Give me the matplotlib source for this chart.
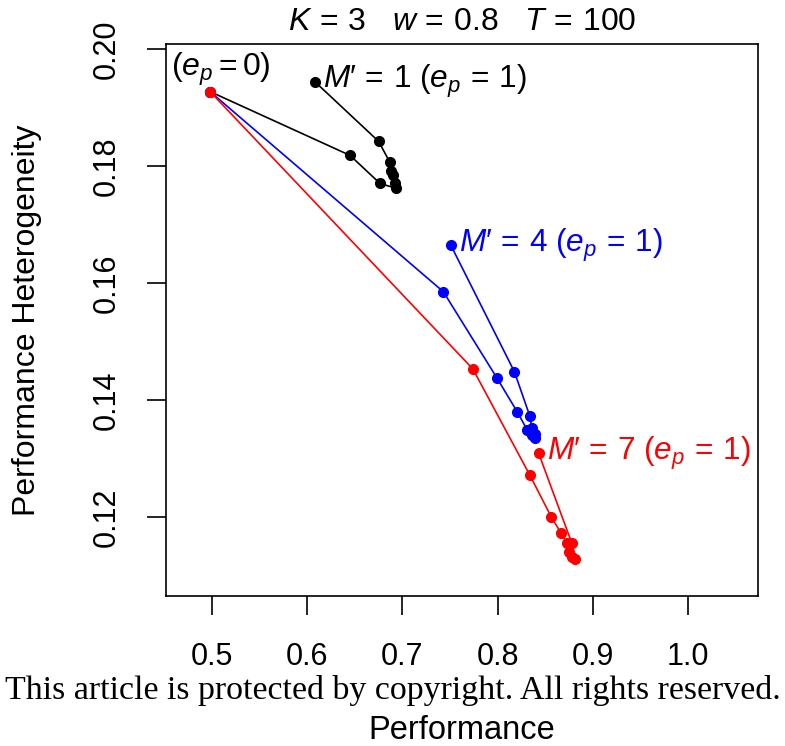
import numpy as np
import matplotlib
matplotlib.use("Agg")
import matplotlib.pyplot as plt

plt.rcParams['font.family'] = ['Liberation Sans', 'DejaVu Sans']
plt.rcParams['mathtext.fontset'] = 'custom'
plt.rcParams['mathtext.rm'] = 'Liberation Sans'
plt.rcParams['mathtext.it'] = 'Liberation Sans:italic'

# values, e_p goes from 0 to 1 along each path
perf_m1 = [0.498, 0.645, 0.6765, 0.693, 0.692, 0.6905, 0.688, 0.6869, 0.675, 0.608]
het_m1 = [0.1927, 0.1818, 0.1770, 0.1762, 0.1770, 0.1784, 0.1792, 0.1806, 0.1842, 0.1944]

perf_m4 = [0.498, 0.743, 0.7995, 0.8205, 0.831, 0.836, 0.839, 0.839, 0.836, 0.8337, 0.8177, 0.7507]
het_m4 = [0.1927, 0.1585, 0.1437, 0.1380, 0.1349, 0.1340, 0.1335, 0.1342, 0.1352, 0.1373, 0.1448, 0.1665]

perf_m7 = [0.498, 0.774, 0.8337, 0.8564, 0.8668, 0.8727, 0.8752, 0.878, 0.8808, 0.878, 0.8431]
het_m7 = [0.1927, 0.1453, 0.1272, 0.1200, 0.1172, 0.1156, 0.1141, 0.1132, 0.1128, 0.1155, 0.1309]

series = [
    (perf_m1, het_m1, 'black', "$M$\u2032$\\,=\\,1\\ (e_p\\,=\\,1)$"),
    (perf_m4, het_m4, 'blue', "$M$\u2032$\\,=\\,4\\ (e_p\\,=\\,1)$"),
    (perf_m7, het_m7, 'red', "$M$\u2032$\\,=\\,7\\ (e_p\\,=\\,1)$"),
]

xticks = [0.5, 0.6, 0.7, 0.8, 0.9, 1.0]
yticks = [0.12, 0.14, 0.16, 0.18, 0.20]

fig = plt.figure(figsize=(7.85, 7.46), dpi=100)
ax = fig.add_axes([0.2115, 0.2011, 0.7541, 0.740])

for px, py, col, lab in series:
    ax.plot(px, py, color=col, lw=1.2, marker='o', ms=7, mec=col, mfc=col)
    ax.annotate(lab, xy=(px[-1], py[-1]), xytext=(6, 0), textcoords='offset points',
                ha='left', va='center', color=col, fontsize=22.8)

ax.annotate(r"$(e_p=0)$", xy=(perf_m1[0], het_m1[0]), xytext=(8, 16),
            textcoords='offset points', ha='center', va='center', fontsize=23)

ax.set_xlim(0.4517, 1.0735)
ax.set_ylim(0.1065, 0.20085)
ax.set_xticks(xticks)
ax.set_xticklabels(['0.5', '0.6', '0.7', '0.8', '0.9', '1.0'])
ax.set_yticks(yticks)
ax.set_yticklabels(['0.12', '0.14', '0.16', '0.18', '0.20'], rotation=90, va='center')
ax.tick_params(axis='both', length=14, width=1.2, labelsize=22)
ax.tick_params(axis='x', pad=19)
ax.tick_params(axis='y', pad=18)
for s in ax.spines.values():
    s.set_linewidth(1.2)

fig.text(0.589, 0.970, r"$K\,=\,3\quad w\,=\,0.8\quad T\,=\,100$", ha='center', va='center', fontsize=23)
fig.text(0.034, 0.571, 'Performance Heterogeneity', rotation=90, ha='center', va='center', fontsize=23)
fig.text(0.588, 0.021, 'Performance', ha='center', va='center', fontsize=23.5)
fig.text(0.5, 0.075, 'This article is protected by copyright. All rights reserved.',
         ha='center', va='center', fontsize=24.4, family='Liberation Serif')

fig.savefig('out.png', dpi=100)
